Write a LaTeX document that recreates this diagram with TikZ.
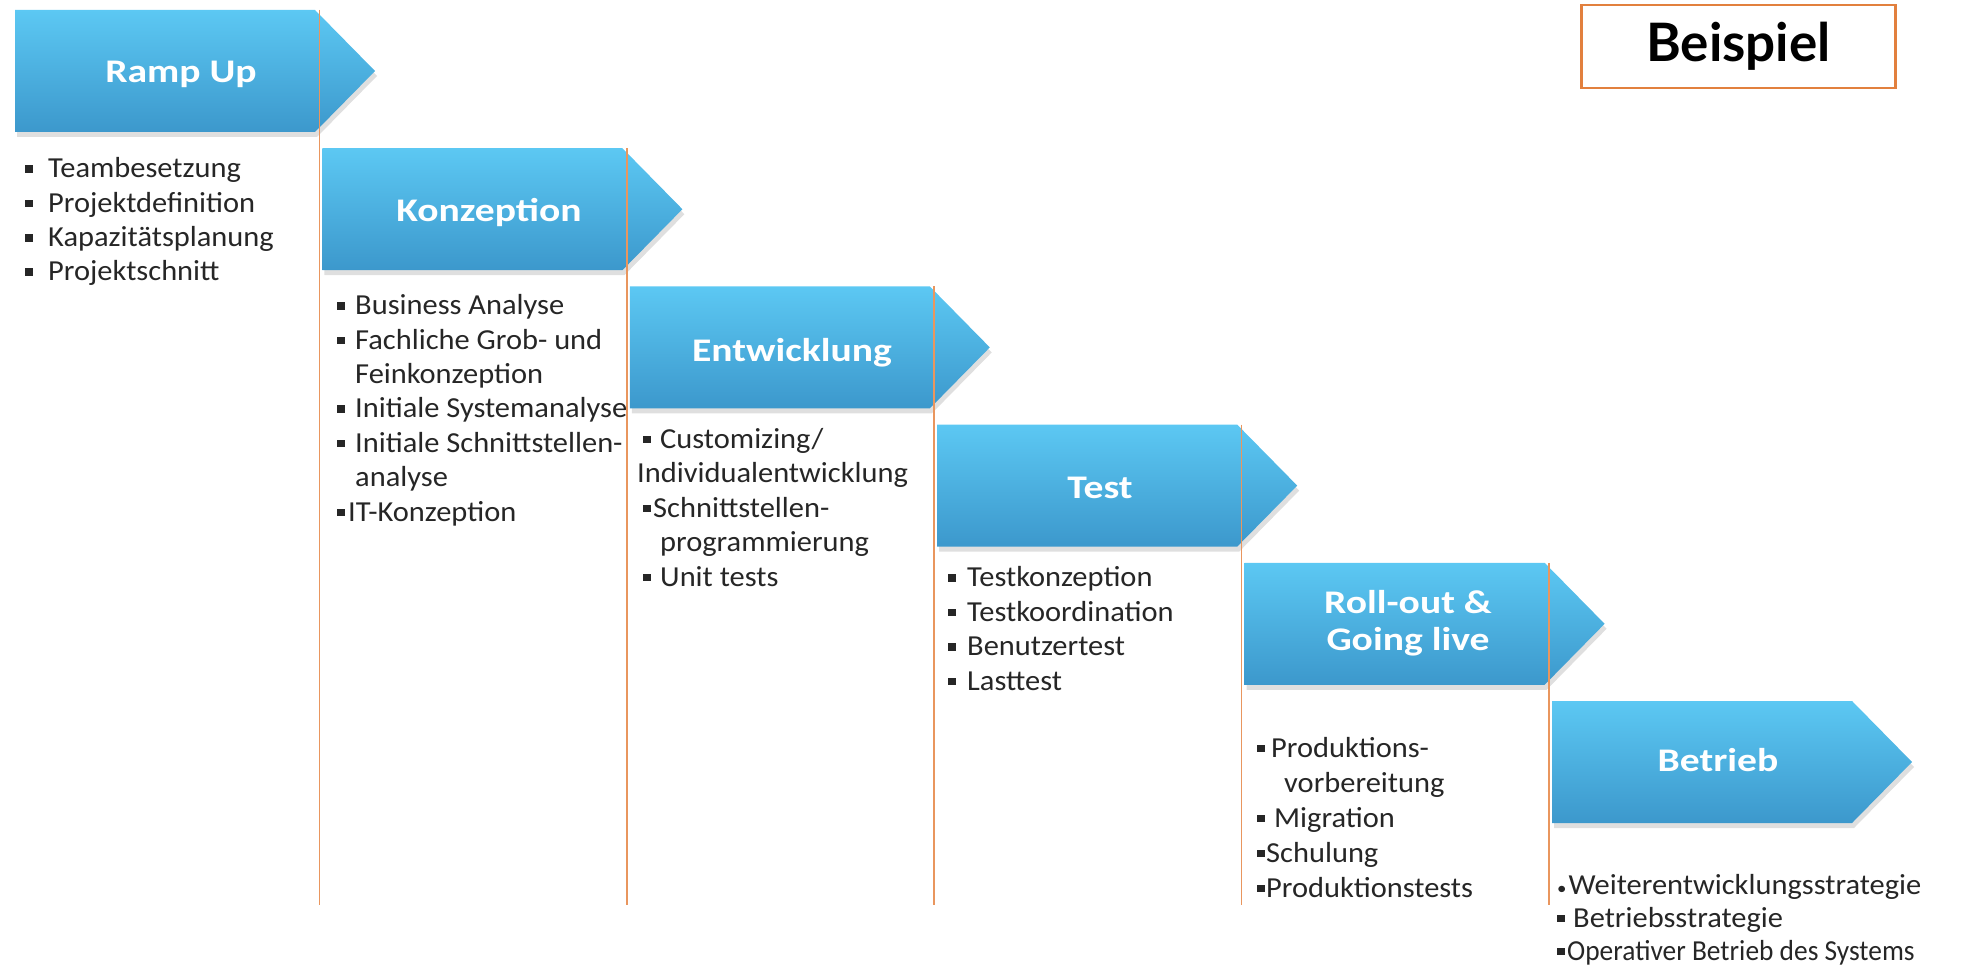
\documentclass[tikz,border=0pt]{standalone}
\usepackage{fontspec}
\setmainfont{Carlito}
\newfontfamily\ttlfont{Carlito}[FakeStretch=1.2]
\newfontfamily\bodyfont{Carlito}[FakeStretch=1.05]
\newfontfamily\latofont{Lato}
\usetikzlibrary{shadows}
\definecolor{atop}{HTML}{5CC8F3}
\definecolor{abot}{HTML}{3C98CC}
\definecolor{oline}{HTML}{E9965E}
\definecolor{obox}{HTML}{E2803E}
\newcommand\sqb{\rule[5pt]{7.5pt}{7.5pt}}
\newcommand\rdb{{\fontsize{18}{18}\selectfont •}}
\tikzset{
 phase/.style={top color=atop, bottom color=abot, draw=none,
   drop shadow={opacity=0.25, shadow xshift=2pt, shadow yshift=-5pt}},
 ttl/.style={anchor=base, text=white, font=\ttlfont\bfseries\fontsize{33}{37}\selectfont, align=center, inner sep=0pt},
 lst/.style={anchor=base west, inner sep=0pt, align=left, text=black!85,
   font=\bodyfont\fontsize{29}{34.4}\selectfont},
 sep/.style={draw=oline, line width=1.6pt},
}
\begin{document}
\begin{tikzpicture}[x=1pt,y=-1pt]
\useasboundingbox (0,0) rectangle (1971,968);
% phase arrows
\foreach \i in {0,...,5} {
  \pgfmathsetmacro\L{15+307.4*\i}
  \pgfmathsetmacro\T{10+138.2*\i}
  \path[phase] (\L,\T) -- ++(300,0) -- ++(60,61) -- ++(-60,61) -- ++(-300,0) -- cycle;
}
% separator lines
\foreach \i in {0,...,4} {
  \pgfmathsetmacro\X{15+307.4*(\i+1)-3}
  \pgfmathsetmacro\T{10+138.2*\i}
  \draw[sep] (\X,\T) -- (\X,905);
}
% titles (anchored at baseline; for two lines at the last baseline)
\node[ttl] (t-ramp) at (181,83) {Ramp Up};
\node[ttl] (t-konz) at (489,222) {Konzeption};
\node[ttl] (t-entw) at (792,361) {Entwicklung};
\node[ttl] (t-test) at (1100,498) {Test};
\node[ttl] (t-roll) at (1408,650) {Roll-out \&\\Going live};
\node[ttl] (t-betr) at (1718,771) {Betrieb};
% lists (anchored at the baseline of their last line)
\node[lst] (l-ramp) at (25,281) {\sqb\hspace*{15.5pt}Teambesetzung\\
\sqb\hspace*{15.5pt}Projektdefinition\\
\sqb\hspace*{15.5pt}Kapazitätsplanung\\
\sqb\hspace*{15.5pt}Projektschnitt};
\node[lst] (l-konz) at (337,521) {\sqb\hspace*{10.5pt}Business Analyse\\
\sqb\hspace*{10.5pt}Fachliche Grob- und\\
\hspace*{18pt}Feinkonzeption\\
\sqb\hspace*{10.5pt}Initiale Systemanalyse\\
\sqb\hspace*{10.5pt}Initiale Schnittstellen-\\
\hspace*{18pt}analyse\\
\sqb\hspace*{3.5pt}IT-Konzeption};
\node[lst] (l-entw) at (637,586) {\hspace*{6pt}\sqb\hspace*{9.5pt}Customizing/\\
Individualentwicklung\\
\hspace*{6pt}\sqb\hspace*{2.5pt}Schnittstellen-\\
\hspace*{23pt}programmierung\\
\hspace*{6pt}\sqb\hspace*{9.5pt}Unit tests};
\node[lst] (l-test) at (948,690) {\sqb\hspace*{11.5pt}Testkonzeption\\
\sqb\hspace*{11.5pt}Testkoordination\\
\sqb\hspace*{11.5pt}Benutzertest\\
\sqb\hspace*{11.5pt}Lasttest};
\node[lst, font=\bodyfont\fontsize{29}{35}\selectfont] (l-roll) at (1257,897) {\sqb\hspace*{6.5pt}Produktions-\\
\hspace*{27pt}vorbereitung\\
\sqb\hspace*{9.5pt}Migration\\
\sqb\hspace*{1.5pt}Schulung\\
\sqb\hspace*{1.5pt}Produktionstests};
\node[lst, font=\bodyfont\fontsize{29}{33}\selectfont] (l-betr) at (1557,960) {\rdb\hspace*{2pt}Weiterentwicklungsstrategie\\
\sqb\hspace*{8.5pt}Betriebsstrategie\\
\sqb\hspace*{2.5pt}\scalebox{0.9}[1]{Operativer Betrieb des Systems}};
% example label
\node[draw=obox, line width=2.5pt, minimum width=314pt, minimum height=83pt, inner sep=0pt,
  font=\latofont\bfseries\fontsize{53}{60}\selectfont] (bsp) at (1738.5,46.5) {Beispiel};
\end{tikzpicture}
\end{document}
